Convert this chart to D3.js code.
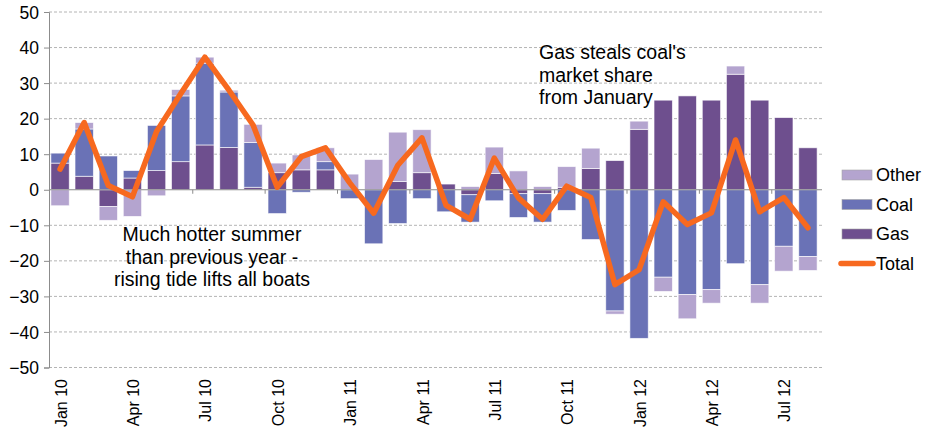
<!DOCTYPE html>
<html><head><meta charset="utf-8">
<script src="https://cdn.jsdelivr.net/npm/d3@7"></script>
<style>body{margin:0;background:#fff} text{font-family:"Liberation Sans",Arial,sans-serif;fill:#000}</style>
</head><body><svg id="c" width="930" height="438"></svg>
<script>
const months = ["Jan 10","Feb 10","Mar 10","Apr 10","May 10","Jun 10","Jul 10","Aug 10","Sep 10","Oct 10","Nov 10","Dec 10",
  "Jan 11","Feb 11","Mar 11","Apr 11","May 11","Jun 11","Jul 11","Aug 11","Sep 11","Oct 11","Nov 11","Dec 11",
  "Jan 12","Feb 12","Mar 12","Apr 12","May 12","Jun 12","Jul 12","Aug 12"];
const gas   = [7.5, 3.8, -4.7, 3.3, 5.4, 7.9, 12.6, 11.9, 0.7, 4.8, 5.6, 5.6, 0, 0, 2.3, 4.8, 1.6, -1.4, 4.6, -1.1, -1.1, 0.7, 6.0, 8.2, 17.0, 25.2, 26.4, 25.2, 32.5, 25.2, 20.3, 11.8];
const coal  = [2.8, 13.3, 9.5, 2.1, 12.7, 18.5, 23.0, 15.6, 12.6, -6.7, -0.7, 2.3, -2.5, -15.2, -9.5, -2.5, -6.2, -7.7, -3.1, -6.7, -8.0, -5.8, -14.0, -34.1, -41.8, -24.6, -29.5, -28.1, -20.8, -26.7, -15.9, -18.8];
const other = [-4.5, 1.8, -3.9, -7.5, -1.7, 1.8, 1.7, 0.5, 5.1, 2.7, 4.2, 3.9, 4.4, 8.5, 13.9, 12.1, 0, 0.9, 7.4, 5.3, 0.9, 5.8, 5.7, -0.9, 2.3, -4.0, -6.8, -3.8, 2.3, -5.2, -7.0, -3.9];
const total = [5.8, 18.9, 1.2, -2.0, 16.4, 27.0, 37.3, 28.0, 18.2, 0.7, 9.3, 11.8, 2.0, -6.6, 6.9, 14.6, -4.4, -8.3, 8.9, -2.3, -8.3, 1.0, -2.2, -26.7, -22.5, -3.4, -9.8, -6.5, 14.0, -6.2, -2.2, -10.7];
const yTicks = [-50,-40,-30,-20,-10,0,10,20,30,40,50];
const xTickLabels = ["Jan 10","Apr 10","Jul 10","Oct 10","Jan 11","Apr 11","Jul 11","Oct 11","Jan 12","Apr 12","Jul 12"];
const seriesNames = ["Gas","Coal","Other"];
const colors = {Gas:"#6e4f8e", Coal:"#6a72b6", Other:"#b4a4cf", Total:"#f7691f"};
const note1 = ["Much hotter summer","than previous year -","rising tide lifts all boats"];
const note2 = ["Gas steals coal's","market share","from January"];

const svg = d3.select("#c");
const x = d3.scaleBand().domain(months).range([48, 820]).paddingInner(0.24).paddingOuter(0.12);
const y = d3.scaleLinear().domain([-50, 50]).range([367.5, 12]);
const left = 49, right = 822;

// gridlines
svg.append("g").selectAll("line").data(yTicks.filter(t => t !== 0)).join("line")
  .attr("x1", left).attr("x2", right).attr("y1", d => y(d)).attr("y2", d => y(d))
  .attr("stroke", "#b4b4b4").attr("stroke-width", 1).attr("stroke-dasharray", "3,2");

// stacked bars
const table = months.map((m, i) => ({month: m, Gas: gas[i], Coal: coal[i], Other: other[i]}));
const stacked = d3.stack().keys(seriesNames).offset(d3.stackOffsetDiverging)(table);
svg.append("g").selectAll("g").data(stacked).join("g")
  .attr("fill", s => colors[s.key])
  .selectAll("rect").data(s => s.filter(d => d[0] !== d[1])).join("rect")
  .attr("x", d => x(d.data.month)).attr("width", x.bandwidth())
  .attr("y", d => y(Math.max(d[0], d[1])))
  .attr("height", d => Math.abs(y(d[0]) - y(d[1])))
  .attr("stroke", "#ffffff").attr("stroke-opacity", 0.75).attr("stroke-width", 0.8);

// zero axis line + ticks
svg.append("line").attr("x1", left).attr("x2", right).attr("y1", y(0)).attr("y2", y(0))
  .attr("stroke", "#8c8c8c").attr("stroke-width", 1);
const step = x.step(), gap = step * x.paddingInner();
svg.append("g").selectAll("line").data(months.filter((m, i) => i > 0 && i % 3 === 0)).join("line")
  .attr("x1", d => x(d) - gap / 2).attr("x2", d => x(d) - gap / 2)
  .attr("y1", y(0)).attr("y2", y(0) + 4).attr("stroke", "#8c8c8c");

// y axis
const yAxis = d3.axisLeft(y).tickValues(yTicks).tickSize(5).tickPadding(5);
const ya = svg.append("g").attr("transform", `translate(${left},0)`).call(yAxis);
ya.select(".domain").attr("stroke", "#8c8c8c");
ya.selectAll(".tick line").attr("stroke", "#8c8c8c");
ya.selectAll(".tick text").attr("font-size", "17.5px").attr("fill", "#000").attr("dy", "0.35em")
  .style("font-family", "'Liberation Sans', Arial, sans-serif");

// x labels
svg.append("g").selectAll("text").data(xTickLabels).join("text")
  .attr("transform", d => `translate(${x(d) + x.bandwidth() / 2 + 1},379) rotate(-90)`)
  .attr("text-anchor", "end").attr("dy", "0.35em").attr("font-size", "16px").text(d => d);

// total line
const line = d3.line().x((d, i) => x(months[i]) + x.bandwidth() / 2).y(d => y(d));
svg.append("path").datum(total).attr("d", line).attr("fill", "none")
  .attr("stroke", colors.Total).attr("stroke-width", 5.5).attr("stroke-linejoin", "round").attr("stroke-linecap", "round");

// annotations
svg.append("g").selectAll("text").data(note1).join("text")
  .attr("x", 212).attr("y", (d, i) => 241 + i * 22.5).attr("text-anchor", "middle")
  .attr("font-size", "19.5px").text(d => d);
svg.append("g").selectAll("text").data(note2).join("text")
  .attr("x", 539).attr("y", (d, i) => 59 + i * 22.5).attr("text-anchor", "start")
  .attr("font-size", "19.5px").text(d => d);

// legend
const legendItems = ["Other","Coal","Gas","Total"];
const lg = svg.append("g").selectAll("g").data(legendItems).join("g")
  .attr("transform", (d, i) => `translate(842,${175 + i * 29.5})`);
lg.filter(d => d !== "Total").append("rect").attr("x", 0).attr("y", -5).attr("width", 30).attr("height", 10)
  .attr("fill", d => colors[d]).attr("stroke", "#a6a6a6").attr("stroke-width", 0.6);
lg.filter(d => d === "Total").append("line").attr("x1", -1).attr("x2", 31).attr("y1", 0).attr("y2", 0)
  .attr("stroke", colors.Total).attr("stroke-width", 5.5).attr("stroke-linecap", "round");
lg.append("text").attr("x", 34).attr("y", 0).attr("dy", "0.36em").attr("font-size", "18px").text(d => d);
</script></body></html>
